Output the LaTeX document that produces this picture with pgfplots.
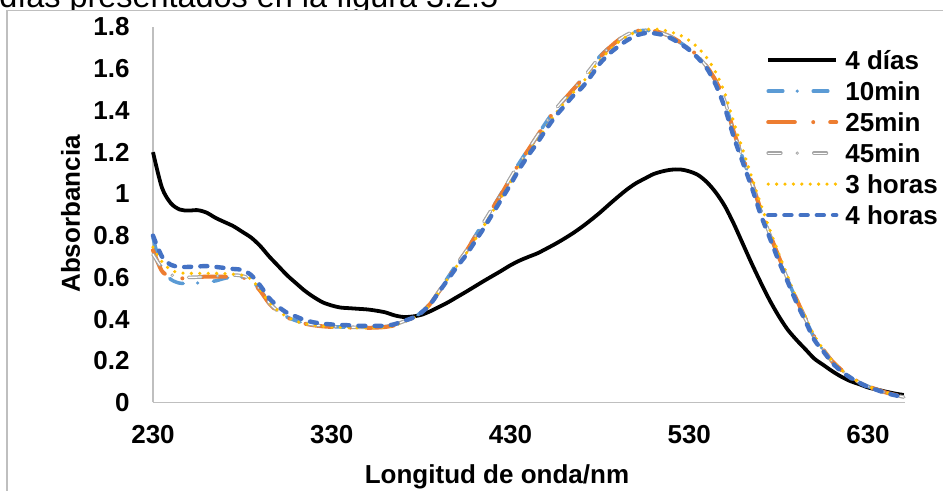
\documentclass[border=0pt]{standalone}
\usepackage{fontspec}
\setmainfont{Liberation Sans}
\usepackage{pgfplots}
\usepackage{pgfplotstable}
\pgfplotsset{compat=1.18}
\definecolor{c10}{RGB}{91,155,213}
\definecolor{c25}{RGB}{237,125,49}
\definecolor{c45}{RGB}{165,165,165}
\definecolor{c3h}{RGB}{255,192,0}
\definecolor{c4h}{RGB}{68,114,196}
\definecolor{axgray}{RGB}{191,191,191}

\pgfplotstableread{
nm d4 m10 m25 m45 h3 h4
230 1.20 0.79 0.73 0.71 0.745 0.80
235 1.03 0.64 0.63 0.645 0.675 0.70
240 0.955 0.59 0.605 0.612 0.635 0.66
245 0.925 0.572 0.595 0.602 0.622 0.65
250 0.92 0.570 0.598 0.600 0.619 0.65
255 0.922 0.573 0.602 0.601 0.619 0.652
260 0.91 0.577 0.603 0.603 0.619 0.654
265 0.885 0.583 0.603 0.606 0.619 0.65
270 0.865 0.595 0.603 0.61 0.618 0.645
275 0.845 0.602 0.604 0.611 0.615 0.64
280 0.818 0.600 0.600 0.607 0.61 0.635
285 0.79 0.585 0.582 0.588 0.59 0.61
290 0.75 0.54 0.535 0.54 0.54 0.56
295 0.70 0.48 0.475 0.478 0.48 0.50
300 0.655 0.44 0.435 0.438 0.44 0.46
305 0.61 0.41 0.408 0.41 0.41 0.43
310 0.572 0.392 0.39 0.392 0.39 0.412
315 0.535 0.38 0.378 0.38 0.378 0.395
320 0.505 0.372 0.37 0.372 0.37 0.384
325 0.48 0.367 0.365 0.367 0.365 0.378
330 0.465 0.364 0.362 0.364 0.362 0.374
335 0.455 0.362 0.36 0.362 0.36 0.372
340 0.452 0.361 0.359 0.361 0.359 0.37
345 0.449 0.36 0.358 0.36 0.358 0.368
350 0.446 0.36 0.358 0.36 0.358 0.367
355 0.44 0.361 0.359 0.361 0.359 0.367
360 0.432 0.364 0.362 0.364 0.362 0.368
365 0.418 0.372 0.37 0.372 0.37 0.375
370 0.41 0.388 0.386 0.388 0.386 0.39
375 0.412 0.405 0.404 0.405 0.403 0.405
380 0.42 0.432 0.43 0.432 0.428 0.43
385 0.437 0.475 0.472 0.474 0.47 0.47
390 0.458 0.535 0.532 0.534 0.53 0.53
395 0.48 0.60 0.597 0.599 0.595 0.59
400 0.505 0.665 0.662 0.664 0.655 0.65
405 0.53 0.725 0.722 0.724 0.712 0.705
410 0.556 0.795 0.792 0.794 0.778 0.77
415 0.582 0.865 0.862 0.864 0.845 0.835
420 0.607 0.935 0.932 0.934 0.915 0.905
425 0.632 1.005 1.0 1.003 0.985 0.975
430 0.658 1.08 1.075 1.078 1.055 1.045
435 0.68 1.15 1.148 1.149 1.13 1.12
440 0.698 1.215 1.212 1.214 1.195 1.185
445 0.715 1.28 1.278 1.279 1.258 1.245
450 0.737 1.345 1.342 1.344 1.32 1.31
455 0.76 1.405 1.402 1.404 1.382 1.37
460 0.785 1.455 1.452 1.454 1.435 1.42
465 0.812 1.50 1.50 1.50 1.485 1.47
470 0.842 1.55 1.548 1.549 1.53 1.51
475 0.875 1.605 1.60 1.603 1.585 1.565
480 0.91 1.66 1.655 1.658 1.64 1.625
485 0.948 1.70 1.698 1.70 1.685 1.67
490 0.985 1.735 1.735 1.735 1.725 1.705
495 1.02 1.762 1.763 1.763 1.755 1.735
500 1.05 1.778 1.78 1.78 1.775 1.758
505 1.073 1.784 1.786 1.785 1.787 1.77
510 1.095 1.78 1.782 1.782 1.79 1.77
515 1.108 1.768 1.77 1.77 1.786 1.762
520 1.116 1.75 1.752 1.752 1.775 1.745
525 1.117 1.725 1.727 1.727 1.76 1.72
530 1.108 1.695 1.698 1.697 1.735 1.69
535 1.09 1.655 1.658 1.657 1.70 1.65
540 1.055 1.605 1.608 1.607 1.65 1.60
545 1.005 1.535 1.54 1.538 1.58 1.52
550 0.94 1.44 1.445 1.443 1.48 1.41
555 0.855 1.29 1.295 1.293 1.34 1.27
560 0.76 1.17 1.175 1.172 1.21 1.15
565 0.665 1.05 1.055 1.052 1.08 1.03
570 0.575 0.92 0.925 0.922 0.95 0.90
575 0.49 0.805 0.81 0.807 0.83 0.79
580 0.415 0.695 0.70 0.697 0.715 0.68
585 0.35 0.59 0.595 0.592 0.605 0.58
590 0.30 0.49 0.495 0.492 0.50 0.48
595 0.255 0.40 0.403 0.401 0.41 0.39
600 0.21 0.31 0.315 0.312 0.32 0.30
605 0.18 0.25 0.253 0.251 0.255 0.245
610 0.15 0.195 0.198 0.196 0.20 0.19
615 0.124 0.155 0.157 0.156 0.158 0.15
620 0.103 0.123 0.124 0.123 0.125 0.12
625 0.088 0.097 0.098 0.097 0.098 0.095
630 0.072 0.077 0.078 0.077 0.078 0.075
635 0.062 0.061 0.062 0.061 0.062 0.06
640 0.052 0.047 0.048 0.047 0.048 0.045
645 0.043 0.036 0.037 0.036 0.036 0.035
650 0.036 0.026 0.027 0.026 0.026 0.025
}\datatable

\newcommand{\lblfont}{\fontsize{13pt}{15pt}\selectfont\bfseries}

\begin{document}
\begin{tikzpicture}
\useasboundingbox (0pt,0pt) rectangle (471.5pt,-245.5pt);
\begin{scope}[x=0.5pt,y=-0.5pt]
\node[anchor=base west,inner sep=0pt,font=\fontsize{16.2pt}{19pt}\selectfont] at (-1,7.3) {días presentados en la figura 3.2.5};
\fill[white] (7,10.5) rectangle (960,500);
\draw[axgray,line width=0.6pt] (7,500) -- (7,10.5) -- (960,10.5);
\end{scope}
\begin{axis}[
  at={(76.5pt,-201.25pt)}, anchor=south west,
  width=376pt, height=187.75pt, scale only axis,
  xmin=230, xmax=650.7, ymin=0, ymax=1.8,
  axis x line*=bottom, axis y line*=left,
  axis line style={draw=axgray, line width=0.6pt},
  major tick length=0pt,
  xtick={230,330,430,530,630},
  xticklabels={230,330,430,530,630},
  ytick={0,0.2,0.4,0.6,0.8,1,1.2,1.4,1.6,1.8},
  yticklabels={0,0.2,0.4,0.6,0.8,1,1.2,1.4,1.6,1.8},
  /pgf/number format/assume math mode=true,
  xticklabel style={font=\lblfont, anchor=north, inner sep=0pt, yshift=-11.15pt},
  yticklabel style={font=\lblfont, anchor=east, inner sep=0pt, xshift=-11.5pt},
  xlabel={Longitud de onda/nm},
  ylabel={Absorbancia},
  every axis x label/.style={at={(axis description cs:0.4574,-0.2152)}, anchor=base, font=\lblfont, inner sep=0pt},
  every axis y label/.style={at={(axis description cs:-0.0971,0.502)}, anchor=base, rotate=90, font=\lblfont, inner sep=0pt},
  clip=false,
  legend style={at={(axis description cs:0.8152,0.9366)}, anchor=north west, draw=none, fill=none,
    inner sep=0pt, outer sep=0pt, row sep=3pt, column sep=3.5pt, font=\lblfont,
    nodes={inner sep=0pt, text height=9.5pt, text depth=3pt}},
  legend cell align=left,
  legend image code/.code={\draw[#1] (0pt,1.6pt) -- (34pt,1.6pt);},
]
\addplot[black, line width=1.9pt, smooth] table[x=nm,y=d4] {\datatable};
\addlegendentry{4 días}
\addplot[c10, line width=1.75pt, line cap=round, dash pattern=on 7.3pt off 7.2pt on 0pt off 8pt, smooth] table[x=nm,y=m10] {\datatable};
\addlegendentry{10min}
\addplot[c25, line width=2pt, line cap=round, dash pattern=on 13.3pt off 9.2pt on 0pt off 8.5pt, smooth] table[x=nm,y=m25] {\datatable};
\addlegendentry{25min}
\addplot[c45, line width=0.6pt, double=white, double distance=0.6pt, line cap=round, dash pattern=on 6.3pt off 8.2pt on 0pt off 8.3pt, smooth] table[x=nm,y=m45] {\datatable};
\addlegendentry{45min}
\addplot[c3h, line width=1.8pt, line cap=round, dash pattern=on 0pt off 4.2pt, smooth] table[x=nm,y=h3] {\datatable};
\addlegendentry{3 horas}
\addplot[c4h, line width=2.2pt, line cap=round, dash pattern=on 3.5pt off 4.6pt, smooth] table[x=nm,y=h4] {\datatable};
\addlegendentry{4 horas}
\end{axis}
\end{tikzpicture}
\end{document}
